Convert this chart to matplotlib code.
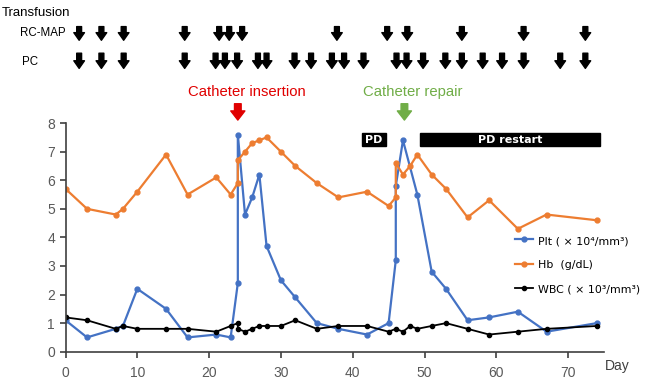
import matplotlib.pyplot as plt
from matplotlib.patches import Rectangle
from matplotlib import transforms

# Plt (x10^4/mm3)
plt_days = [0, 3, 7, 8, 10, 14, 17, 21, 23, 24, 24, 25, 26, 27, 28, 30, 32, 35, 38, 42,
            45, 46, 46, 47, 49, 51, 53, 56, 59, 63, 67, 74]
plt_vals = [1.1, 0.5, 0.8, 0.9, 2.2, 1.5, 0.5, 0.6, 0.5, 2.4, 7.6, 4.8, 5.4, 6.2, 3.7, 2.5, 1.9, 1.0, 0.8, 0.6,
            1.0, 3.2, 5.8, 7.4, 5.5, 2.8, 2.2, 1.1, 1.2, 1.4, 0.7, 1.0]

# Hb (g/dL)
hb_days = [0, 3, 7, 8, 10, 14, 17, 21, 23, 24, 24, 25, 26, 27, 28, 30, 32, 35, 38, 42,
           45, 46, 46, 47, 48, 49, 51, 53, 56, 59, 63, 67, 74]
hb_vals = [5.7, 5.0, 4.8, 5.0, 5.6, 6.9, 5.5, 6.1, 5.5, 5.9, 6.7, 7.0, 7.3, 7.4, 7.5, 7.0, 6.5, 5.9, 5.4, 5.6,
           5.1, 5.4, 6.6, 6.2, 6.5, 6.9, 6.2, 5.7, 4.7, 5.3, 4.3, 4.8, 4.6]

# WBC (x10^3/mm3)
wbc_days = [0, 3, 7, 8, 10, 14, 17, 21, 23, 24, 24, 25, 26, 27, 28, 30, 32, 35, 38, 42,
            45, 46, 47, 48, 49, 51, 53, 56, 59, 63, 67, 74]
wbc_vals = [1.2, 1.1, 0.8, 0.9, 0.8, 0.8, 0.8, 0.7, 0.9, 1.0, 0.8, 0.7, 0.8, 0.9, 0.9, 0.9, 1.1, 0.8, 0.9, 0.9,
            0.7, 0.8, 0.7, 0.9, 0.8, 0.9, 1.0, 0.8, 0.6, 0.7, 0.8, 0.9]

# transfusion days
rcmap_days = [1.9, 5.0, 8.1, 16.6, 21.4, 22.8, 24.6, 37.8, 44.8, 47.6, 55.2, 63.8, 72.4]
pc_days = [1.9, 5.0, 8.1, 16.6, 20.9, 22.2, 23.9, 26.8, 28.0, 31.9, 34.2, 37.1, 38.8, 41.5,
           46.1, 47.5, 49.8, 52.9, 55.2, 58.1, 60.8, 63.8, 68.9, 72.4]

# PD periods (start, end, label)
pd_periods = [(41.3, 44.6, 'PD'), (49.4, 74.5, 'PD restart')]

events = [(24, 'Catheter insertion', '#e00000'), (47.2, 'Catheter repair', '#70ad47')]

plt.rcParams['font.family'] = ['Liberation Sans', 'DejaVu Sans']

fig = plt.figure(figsize=(6.46, 3.8), dpi=100)
ax = fig.add_axes([0.1014, 0.0745, 0.8336, 0.6015])

ax.plot(plt_days, plt_vals, '-o', color='#4472c4', lw=1.6, ms=3.5,
        label='Plt ( \u00d7 10\u2074/mm\u00b3)')
ax.plot(hb_days, hb_vals, '-o', color='#ed7d31', lw=1.6, ms=3.5,
        label='Hb  (g/dL)')
ax.plot(wbc_days, wbc_vals, '-o', color='black', lw=1.3, ms=3,
        label='WBC ( \u00d7 10\u00b3/mm\u00b3)')

ax.set_xlim(0, 75)
ax.set_ylim(0, 8)
ax.set_xticks(range(0, 71, 10))
ax.set_yticks(range(0, 9))
ax.spines['top'].set_visible(False)
ax.spines['right'].set_visible(False)
for s in ['left', 'bottom']:
    ax.spines[s].set_color('#404040')
    ax.spines[s].set_linewidth(1.2)
ax.tick_params(colors='#404040', labelcolor='#595959', labelsize=10, length=4, width=1.2)
ax.tick_params(axis='x', pad=6)
fig.text(0.937, 0.026, 'Day', fontsize=10, color='#404040')

# PD boxes
for start, end, lab in pd_periods:
    ax.add_patch(Rectangle((start, 7.2), end - start, 0.45, color='black', clip_on=False))
    ax.text((start + end) / 2, 7.42, lab, color='white', fontsize=8, fontweight='bold',
            ha='center', va='center', family='DejaVu Sans')

# catheter events
trans = transforms.blended_transform_factory(ax.transData, fig.transFigure)
for d, lab, col in events:
    fig.text(0, 0, lab, color=col, fontsize=10.7, ha='center', va='center',
             transform=trans).set_position((d + 1.2, 0.757))
    ax.annotate('', xy=(d, 0.684), xytext=(d, 0.727), xycoords=trans, textcoords=trans,
                arrowprops=dict(arrowstyle='simple,head_length=0.55,head_width=0.85,tail_width=0.4',
                                color=col, mutation_scale=12, shrinkA=0, shrinkB=0))

# transfusion arrows
for days, ytop, ybot in [(rcmap_days, 0.930, 0.894), (pc_days, 0.860, 0.820)]:
    for d in days:
        ax.annotate('', xy=(d, ybot), xytext=(d, ytop), xycoords=trans, textcoords=trans,
                    arrowprops=dict(arrowstyle='simple,head_length=0.5,head_width=0.7,tail_width=0.32',
                                    color='black', mutation_scale=11, shrinkA=0, shrinkB=0))

fig.text(0.002, 0.966, 'Transfusion', fontsize=9.5, va='center')
fig.text(0.031, 0.912, 'RC-MAP', fontsize=8.3, va='center')
fig.text(0.034, 0.837, 'PC', fontsize=8.3, va='center')

leg = ax.legend(loc='upper left', bbox_to_anchor=(0.797, 0.383), bbox_transform=fig.transFigure,
                frameon=False, fontsize=10, handlelength=1.3, handletextpad=0.4,
                labelspacing=0.9, borderaxespad=0, borderpad=0)
for t in leg.get_texts():
    t.set_family('DejaVu Sans')
    t.set_fontsize(7.9)

fig.savefig('out.png', dpi=100)
